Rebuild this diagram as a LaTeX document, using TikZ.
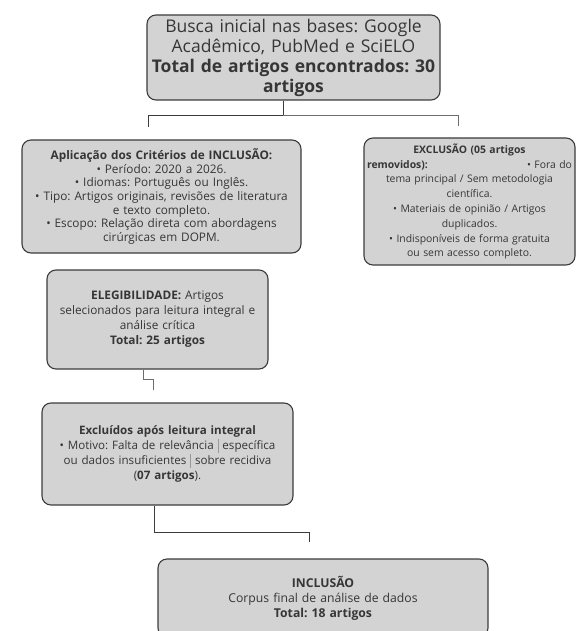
\documentclass[tikz,border=0pt]{standalone}
\usepackage{fontspec}
\setmainfont{Open Sans}
\usepackage{xcolor}
\usetikzlibrary{positioning}
\definecolor{boxfill}{HTML}{D3D3D3}
\definecolor{boxline}{HTML}{3C3C3C}
\definecolor{txt}{HTML}{363636}
\tikzset{
  etapa/.style={draw=boxline, fill=boxfill, rounded corners=9pt, line width=1.1pt,
    align=center, text=txt, inner sep=2pt, font=\fontsize{11.8}{13.6}\selectfont},
  conn/.style={draw=boxline, line width=1pt},
}
\newcommand{\barra}{\hspace{4pt}{\color{gray!80}\rule[-3pt]{0.6pt}{14pt}}\hspace{4pt}}
\frenchspacing

\begin{document}
\begin{tikzpicture}[x=1pt,y=-1pt]
	\useasboundingbox (0,0) rectangle (580,631);
	% etapas
	\node[etapa, text width=289pt, minimum height=85pt, font=\fontsize{17.5}{20}\selectfont] (busca) at (293.5,57.5)
		{Busca inicial nas bases: Google\\ Acadêmico, PubMed e SciELO\\ \textbf{Total de artigos encontrados: 30}\\ \textbf{artigos}};
	\node[etapa, text width=275pt, minimum height=113pt] (incl) at (161.5,196.5)
		{\textbf{Aplicação dos Critérios de INCLUSÃO:}\\ • Período: 2020 a 2026.\\ • Idiomas: Português ou Inglês.\\ • Tipo: Artigos originais, revisões de literatura\\ e texto completo.\\ • Escopo: Relação direta com abordagens\\ cirúrgicas em DOPM.};
	\node[etapa, text width=207pt, minimum height=127pt, font=\fontsize{10.4}{14.8}\selectfont] (excl) at (469.5,201.5)
		{\textbf{EXCLUSÃO (05 artigos}\\ \makebox[205pt]{\textbf{removidos):}\hfill • Fora do}\\ tema principal / Sem metodologia\\ científica.\\ • Materiais de opinião / Artigos\\ duplicados.\\ • Indisponíveis de forma gratuita\\ ou sem acesso completo.};
	\node[etapa, text width=217pt, minimum height=99pt, font=\fontsize{11.8}{15}\selectfont] (eleg) at (157.5,319.5)
		{\textbf{ELEGIBILIDADE:} Artigos\\ selecionados para leitura integral e\\ análise crítica\\ \textbf{Total: 25 artigos}};
	\node[etapa, text width=247pt, minimum height=102pt, font=\fontsize{11.6}{15}\selectfont] (excl2) at (167.5,454)
		{\textbf{Excluídos após leitura integral}\\ • Motivo: Falta de relevância\barra específica\\ ou dados insuficientes\barra sobre recidiva\\ (\textbf{07 artigos}).};
	\node[etapa, text width=326pt, minimum height=78pt, font=\fontsize{12.2}{15}\selectfont] (final) at (323,598)
		{\textbf{INCLUSÃO}\\ Corpus final de análise de dados\\ \textbf{Total: 18 artigos}};
	% ligacoes
	\draw[conn] ([xshift=-10.5pt]busca.south) -- ++(0,15) coordinate (ramo);
	\draw[conn] (ramo) -| ([xshift=-13.5pt,yshift=12pt]incl.north);
	\draw[conn, draw=boxline!75] (ramo) -| ([xshift=-11.5pt,yshift=11pt]excl.north);
	\draw[conn, draw=boxline!75] ([xshift=-14.5pt]eleg.south) -- ++(0,10) -- ++(10,0) -- ++(0,10);
	\draw[conn] ([xshift=-13.5pt]excl2.south) -- ++(0,27) -| ([xshift=-14pt,yshift=16pt]final.north);
\end{tikzpicture}
\end{document}
